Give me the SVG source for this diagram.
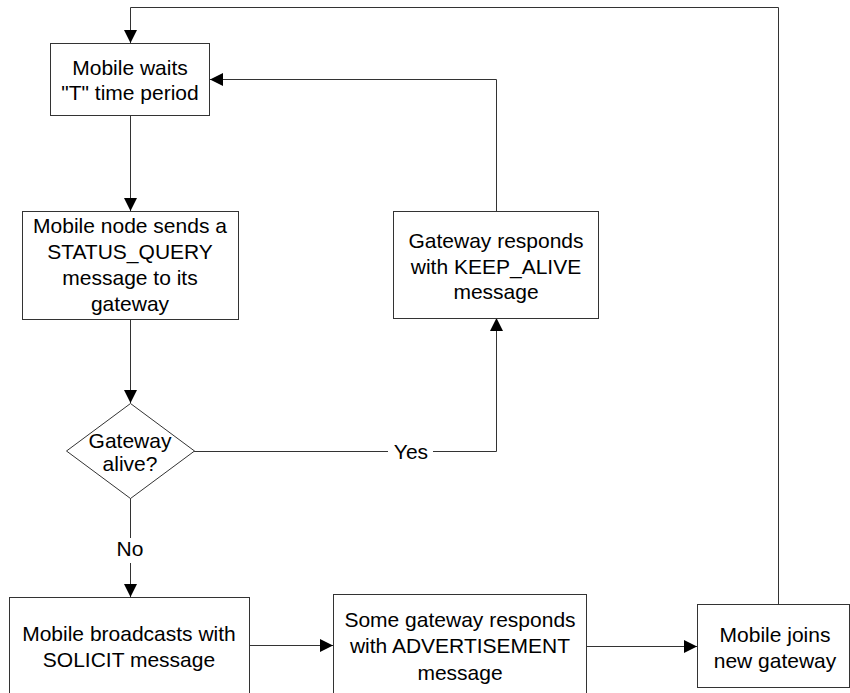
<svg xmlns="http://www.w3.org/2000/svg" width="850" height="693" viewBox="0 0 850 693">
  <defs>
    <marker id="arrow" viewBox="0 0 13 13" refX="13" refY="6.5" markerWidth="13" markerHeight="13" markerUnits="userSpaceOnUse" orient="auto">
      <path d="M0,0 L13,6.5 L0,13 Z" fill="#000"/>
    </marker>
    <style>
      .box { fill: #fff; stroke: #333; stroke-width: 1; }
      .line { fill: none; stroke: #333; stroke-width: 1; }
      .lbl { font-family: "Liberation Sans", Arial, sans-serif; font-size: 21px; fill: #000; text-anchor: middle; dominant-baseline: central; }
    </style>
  </defs>
  <rect width="850" height="693" fill="#fff"/>

  <!-- connectors -->
  <g id="connectors">
    <path class="line" d="M130.5,115 L130.5,211" marker-end="url(#arrow)"/>
    <path class="line" d="M130.5,319 L130.5,403" marker-end="url(#arrow)"/>
    <path class="line" d="M130.5,498 L130.5,538"/>
    <path class="line" d="M130.5,563 L130.5,597" marker-end="url(#arrow)"/>
    <path class="line" d="M194,451.5 L388,451.5"/>
    <path class="line" d="M433,451.5 L496.5,451.5 L496.5,318" marker-end="url(#arrow)"/>
    <path class="line" d="M496.5,211 L496.5,79.5 L210,79.5" marker-end="url(#arrow)"/>
    <path class="line" d="M249,645.5 L333,645.5" marker-end="url(#arrow)"/>
    <path class="line" d="M586,646.5 L697,646.5" marker-end="url(#arrow)"/>
    <path class="line" d="M778.5,604 L778.5,7.5 L130.5,7.5 L130.5,43" marker-end="url(#arrow)"/>
    <text class="lbl" x="130" y="548">No</text>
    <text class="lbl" x="411" y="451">Yes</text>
  </g>

  <g id="wait">
    <rect class="box" x="50.5" y="43.5" width="159" height="72"/>
    <text class="lbl" x="130" y="67">Mobile waits</text>
    <text class="lbl" x="130" y="92">"T" time period</text>
  </g>

  <g id="status-query">
    <rect class="box" x="22.5" y="211.5" width="216" height="108"/>
    <text class="lbl" x="130" y="225">Mobile node sends a</text>
    <text class="lbl" x="130" y="251">STATUS_QUERY</text>
    <text class="lbl" x="130" y="277">message to its</text>
    <text class="lbl" x="130" y="303">gateway</text>
  </g>

  <g id="alive-check">
    <path class="box" d="M130.5,403.5 L194.5,451 L130.5,498.5 L66.5,451 Z"/>
    <text class="lbl" x="130" y="440">Gateway</text>
    <text class="lbl" x="130" y="463">alive?</text>
  </g>

  <g id="keep-alive">
    <rect class="box" x="393.5" y="211.5" width="205" height="107"/>
    <text class="lbl" x="496" y="240">Gateway responds</text>
    <text class="lbl" x="496" y="266">with KEEP_ALIVE</text>
    <text class="lbl" x="496" y="291">message</text>
  </g>

  <g id="solicit">
    <rect class="box" x="9.5" y="597.5" width="240" height="96"/>
    <text class="lbl" x="129" y="633">Mobile broadcasts with</text>
    <text class="lbl" x="129" y="659">SOLICIT message</text>
  </g>

  <g id="advertisement">
    <rect class="box" x="333.5" y="594.5" width="253" height="99"/>
    <text class="lbl" x="460" y="619">Some gateway responds</text>
    <text class="lbl" x="460" y="645">with ADVERTISEMENT</text>
    <text class="lbl" x="460" y="672">message</text>
  </g>

  <g id="join">
    <rect class="box" x="697.5" y="604.5" width="152" height="83"/>
    <text class="lbl" x="775" y="634">Mobile joins</text>
    <text class="lbl" x="775" y="660">new gateway</text>
  </g>
</svg>
